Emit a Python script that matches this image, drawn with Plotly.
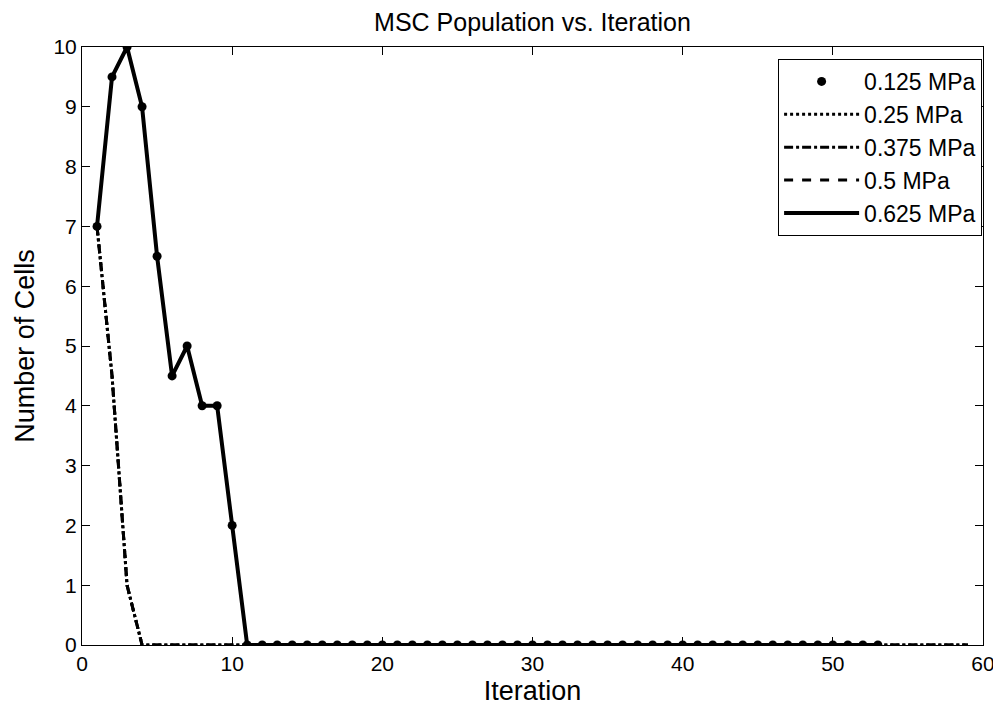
import plotly.graph_objects as go

iterations_long = list(range(1, 60))   # 1..59
iterations_short = list(range(1, 54))  # 1..53

peak_vals = [7, 9.5, 10, 9, 6.5, 4.5, 5, 4, 4, 2] + [0] * 43
drop_vals = [7, 4.5, 1] + [0] * 56

series_names = ["0.125 MPa", "0.25 MPa", "0.375 MPa", "0.5 MPa", "0.625 MPa"]

FONT = "Liberation Sans, Arial, Helvetica, sans-serif"

fig = go.Figure()
fig.add_trace(go.Scatter(x=iterations_short, y=peak_vals, mode="markers", name=series_names[0],
                         marker=dict(color="black", size=9)))
fig.add_trace(go.Scatter(x=iterations_long, y=drop_vals, mode="lines", name=series_names[1],
                         line=dict(color="black", width=3, dash="dot")))
fig.add_trace(go.Scatter(x=iterations_long, y=drop_vals, mode="lines", name=series_names[2],
                         line=dict(color="black", width=3, dash="dashdot")))
fig.add_trace(go.Scatter(x=iterations_long, y=drop_vals, mode="lines", name=series_names[3],
                         line=dict(color="black", width=3, dash="dash")))
fig.add_trace(go.Scatter(x=iterations_short, y=peak_vals, mode="lines", name=series_names[4],
                         line=dict(color="black", width=4)))

axis_common = dict(showline=True, linecolor="black", linewidth=1, mirror="allticks",
                   ticks="inside", ticklen=8, tickcolor="black", showgrid=False, zeroline=False,
                   automargin=False,
                   tickfont=dict(family=FONT, size=21, color="black"))

fig.update_layout(
    width=993, height=709,
    paper_bgcolor="white", plot_bgcolor="white",
    margin=dict(l=74, r=18, t=39, b=72),
    title=dict(text="MSC Population vs. Iteration", x=0.5, xanchor="center", xref="paper",
               y=0.992, yanchor="top", pad=dict(t=0, b=0),
               font=dict(family=FONT, size=25, color="black")),
    xaxis=dict(range=[0, 60], tickvals=[0, 10, 20, 30, 40, 50, 60],
               title=dict(text="Iteration", font=dict(family=FONT, size=27, color="black"), standoff=6),
               **axis_common),
    yaxis=dict(range=[0, 10], tickvals=list(range(0, 11)),
               title=dict(text="Number of Cells", font=dict(family=FONT, size=27, color="black"), standoff=10),
               **axis_common),
    legend=dict(x=0.999, y=0.98, xanchor="right", yanchor="top", bgcolor="white",
                bordercolor="black", borderwidth=1, itemwidth=75,
                font=dict(family=FONT, size=23, color="black"), tracegroupgap=0),
    showlegend=True,
)

fig.write_html("out.html")
